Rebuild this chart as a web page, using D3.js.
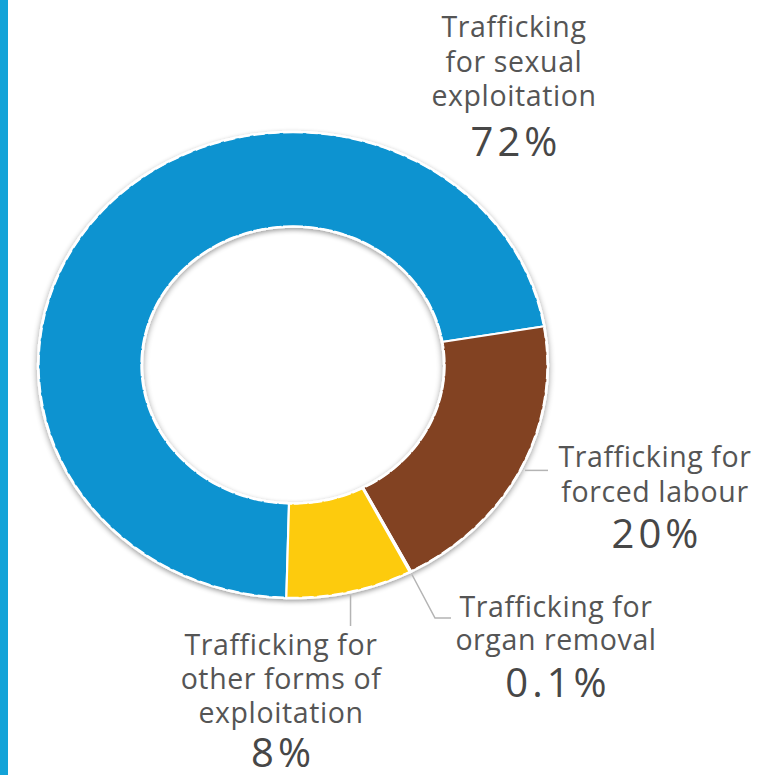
<!DOCTYPE html>
<html>
<head>
<meta charset="utf-8">
<script src="https://cdn.jsdelivr.net/npm/d3@7"></script>
<style>
  html, body { margin: 0; padding: 0; background: #fff; }
  svg { display: block; }
  text { font-family: "Open Sans", "Noto Sans", sans-serif; fill: #555555; }
</style>
</head>
<body>
<svg id="chart" width="780" height="775"></svg>
<script>
// Forms of exploitation among detected trafficking victims (share, %)
const categories = [
  "Trafficking for sexual exploitation",
  "Trafficking for forced labour",
  "Trafficking for organ removal",
  "Trafficking for other forms of exploitation"
];
const shares = [72, 20, 0.1, 8];
const labelLines = [
  ["Trafficking", "for sexual", "exploitation"],
  ["Trafficking for", "forced labour"],
  ["Trafficking for", "organ removal"],
  ["Trafficking for", "other forms of", "exploitation"]
];
const shareLabels = ["72%", "20%", "0.1%", "8%"];
const colors = ["#0793d0", "#824222", "#e9e4dc", "#fdcb07"];

const svg = d3.select("#chart");
const W = 780, H = 775;

// left accent bar
svg.append("rect").attr("x", 0).attr("y", 0).attr("width", 8).attr("height", H)
  .attr("fill", "#12a3d8");

const cx = 293, cy = 365, squash = 0.915;
const rOuter = 255, rInner = 151;

const defs = svg.append("defs");
const shadow = defs.append("filter").attr("id", "ringShadow")
  .attr("x", "-20%").attr("y", "-20%").attr("width", "140%").attr("height", "140%");
shadow.append("feGaussianBlur").attr("in", "SourceAlpha").attr("stdDeviation", 3).attr("result", "b");
shadow.append("feOffset").attr("in", "b").attr("dx", 0).attr("dy", 2).attr("result", "o");
shadow.append("feComponentTransfer").attr("in", "o").attr("result", "s")
  .append("feFuncA").attr("type", "linear").attr("slope", 0.4);
const merge = shadow.append("feMerge");
merge.append("feMergeNode").attr("in", "s");
merge.append("feMergeNode").attr("in", "SourceGraphic");

const start = 181.5 * Math.PI / 180;
const pie = d3.pie().sort(null).startAngle(start).endAngle(start + 2 * Math.PI);
const arcs = pie(shares);
const arc = d3.arc().innerRadius(rInner).outerRadius(rOuter);

const ring = svg.append("g")
  .attr("transform", `translate(${cx},${cy}) scale(1,${squash})`);

const slices = ring.append("g").attr("filter", "url(#ringShadow)");
slices.selectAll("path.slice")
  .data(arcs)
  .join("path")
  .attr("class", "slice")
  .attr("d", arc)
  .attr("fill", (d, i) => colors[i])
  .attr("stroke", "#ffffff")
  .attr("stroke-width", 2.2)
  .attr("stroke-linejoin", "round");

// dashed rims on the outer and inner edges
const rim = d3.arc().startAngle(0).endAngle(2 * Math.PI);
[rOuter - 0.5, rInner + 0.5].forEach(r => {
  ring.append("path")
    .attr("d", rim.innerRadius(r).outerRadius(r)())
    .attr("fill", "none")
    .attr("stroke", "#ffffff")
    .attr("stroke-width", 2.4)
    .attr("stroke-dasharray", "10,5");
});

// leader lines and labels
const toScreen = (angle, r) => [cx + r * Math.sin(angle), cy - squash * r * Math.cos(angle)];
const mid = d => (d.startAngle + d.endAngle) / 2;

const labelLayout = [
  { x: 514, y: 37, lh: 34.5, pct: 50, lead: null },
  { x: 655, y: 467, lh: 35, pct: 46, lead: d => { const p = toScreen(mid(d), rOuter + 4); return [p, [548, p[1]]]; } },
  { x: 556, y: 617, lh: 33, pct: 47, lead: d => { const p = toScreen(mid(d), rOuter + 3); return [p, [435, 618], [451, 618]]; } },
  { x: 281, y: 655, lh: 34, pct: 44, lead: d => { const p = toScreen(mid(d), rOuter + 3); return [p, [p[0], 626]]; } }
];

const line = d3.line();
arcs.forEach((d, i) => {
  const L = labelLayout[i];
  if (L.lead) {
    svg.append("path").attr("d", line(L.lead(d)))
      .attr("fill", "none").attr("stroke", "#b4b4b4").attr("stroke-width", 1.5);
  }
  const g = svg.append("g");
  const lines = labelLines[i];
  lines.forEach((t, k) => {
    g.append("text").attr("x", L.x).attr("y", L.y + k * L.lh)
      .attr("text-anchor", "middle").attr("font-size", 28.5)
      .attr("letter-spacing", 0.6).text(t);
  });
  g.append("text").attr("x", L.x + 2)
    .attr("y", L.y + (lines.length - 1) * L.lh + L.pct)
    .attr("text-anchor", "middle").attr("font-size", 40)
    .attr("letter-spacing", 4)
    .style("fill", "#474747")
    .text(shareLabels[i]);
});
</script>
</body>
</html>
